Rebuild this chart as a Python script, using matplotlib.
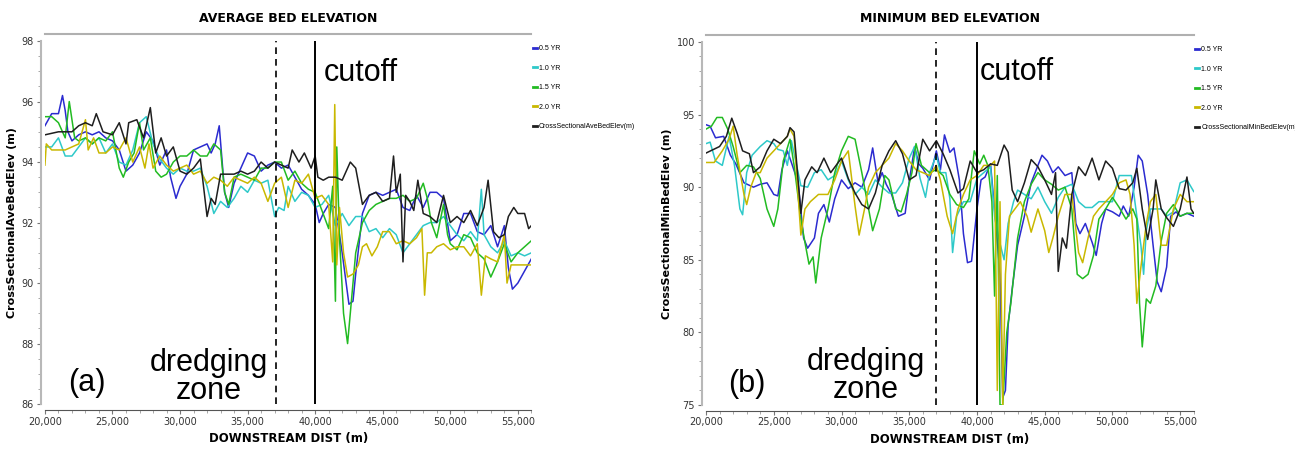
import matplotlib
matplotlib.use("Agg")
import matplotlib.pyplot as plt
from matplotlib.ticker import MultipleLocator, FuncFormatter

# ---------------- data : average bed elevation (a) ----------------
ave_x_05 = [20000, 20500, 21000, 21300, 21500, 21700, 22000, 22500, 23000, 23500, 24000, 24500, 25000, 25500,
            26000, 26500, 27000, 27500, 28000, 28500, 29000, 29300, 29700, 30000, 30500, 31000, 31500, 32000,
            32300, 32600, 32900, 33300, 33600, 34000, 34500, 35000, 35500, 36000, 36500, 37000, 37500, 38000,
            38500, 39000, 39500, 40000, 40300, 40600, 41000, 41500, 42000, 42500, 42800, 43000, 43500, 44000,
            44500, 45000, 45500, 46000, 46500, 47000, 47500, 48000, 48500, 49000, 49500, 50000, 50500, 51000,
            51500, 52000, 52500, 53000, 53500, 54000, 54300, 54600, 55000, 55500, 56000]
ave_y_05 = [95.2, 95.6, 95.6, 96.2, 95.7, 95.0, 94.7, 94.9, 95.0, 94.9, 95.0, 94.8, 94.7, 94.4,
            93.7, 93.9, 94.3, 95.0, 94.7, 93.9, 94.4, 93.5, 92.8, 93.2, 93.6, 94.4, 94.5, 94.6,
            94.3, 94.6, 95.2, 93.0, 92.5, 93.3, 93.8, 94.3, 94.2, 93.7, 93.9, 94.0, 93.8, 93.9,
            93.5, 93.1, 92.9, 92.6, 92.0, 92.3, 92.6, 92.5, 91.0, 89.3, 89.4, 90.3, 92.3, 92.9,
            93.0, 92.9, 93.0, 93.1, 92.5, 92.4, 92.9, 92.5, 93.0, 93.0, 92.8, 91.4, 91.6, 92.3,
            92.3, 91.7, 91.6, 91.9, 91.2, 91.9, 90.5, 89.8, 90.0, 90.4, 90.8]

ave_x_10 = [20000, 20500, 21000, 21500, 22000, 22500, 23000, 23500, 24000, 24500, 25000, 25500, 26000, 26500,
            27000, 27500, 28000, 28500, 29000, 29500, 30000, 30500, 31000, 31500, 32000, 32500, 33000, 33500,
            34000, 34500, 35000, 35500, 36000, 36500, 37000, 37300, 37700, 38000, 38500, 39000, 39500, 40000,
            40500, 41000, 41500, 42000, 42500, 43000, 43500, 44000, 44500, 45000, 45500, 46000, 46500, 47000,
            47500, 48000, 48500, 49000, 49500, 50000, 50500, 51000, 51500, 52000, 52300, 52500, 53000, 53500,
            54000, 54500, 55000, 55500, 56000]
ave_y_10 = [94.5, 94.5, 94.8, 94.2, 94.2, 94.5, 94.8, 94.6, 94.8, 94.3, 94.6, 94.0, 93.9, 94.4,
            95.3, 95.5, 94.6, 94.1, 93.8, 93.6, 93.8, 93.7, 93.7, 93.8, 93.2, 92.3, 92.7, 92.5,
            92.8, 93.2, 93.0, 93.4, 93.3, 93.4, 92.2, 92.5, 92.4, 93.2, 92.7, 93.0, 92.9, 92.5,
            92.6, 92.9, 91.9, 92.3, 91.9, 92.2, 92.2, 91.7, 91.8, 91.5, 91.8, 91.6, 91.0, 91.3,
            91.6, 91.9, 92.0, 92.0, 92.2, 91.9, 91.6, 91.4, 91.7, 91.4, 93.1, 91.6, 91.2, 91.0,
            91.4, 90.9, 91.0, 90.9, 91.0]

ave_x_15 = [20000, 20500, 21000, 21500, 21800, 22200, 22500, 23000, 23500, 24000, 24500, 25000, 25500, 25800,
            26200, 26600, 27000, 27300, 27800, 28200, 28600, 29000, 29500, 30000, 30500, 31000, 31500, 32000,
            32500, 33000, 33300, 33600, 34000, 34500, 35000, 35500, 36000, 36500, 37000, 37500, 38000, 38500,
            39000, 39500, 40000, 40500, 41000, 41300, 41500, 41600, 41800, 42100, 42400, 42700, 43000, 43500,
            44000, 44500, 45000, 45500, 46000, 46500, 47000, 47500, 48000, 48300, 48600, 49000, 49500, 49800,
            50000, 50500, 51000, 51500, 52000, 52500, 53000, 53500, 54000, 54500, 55000, 55500, 56000]
ave_y_15 = [95.5, 95.5, 95.3, 94.8, 96.0, 94.8, 94.7, 94.8, 94.6, 94.8, 94.7, 95.0, 93.8, 93.5,
            94.0, 94.3, 95.3, 94.4, 94.8, 93.7, 93.5, 93.6, 94.0, 94.2, 94.2, 94.4, 94.2, 94.2,
            94.6, 94.4, 93.0, 92.6, 93.5, 93.6, 93.5, 93.4, 93.8, 93.8, 94.0, 94.0, 93.4, 93.7,
            93.3, 93.1, 93.0, 92.4, 91.8, 93.2, 89.4, 94.5, 91.5, 89.0, 88.0, 89.5, 91.0, 92.0,
            92.4, 92.6, 92.7, 92.8, 92.8, 92.9, 92.7, 92.8, 93.3, 92.8, 92.0, 91.5, 92.6, 91.6,
            91.3, 91.1, 91.6, 91.5, 91.0, 90.8, 90.2, 90.7, 91.3, 90.7, 91.0, 91.2, 91.4]

ave_x_20 = [20000, 20100, 20500, 21000, 21500, 22000, 22500, 23000, 23200, 23600, 24000, 24500, 25000, 25500,
            26000, 26500, 27000, 27400, 27700, 28000, 28500, 29000, 29500, 30000, 30500, 31000, 31500, 32000,
            32500, 33000, 33500, 34000, 34500, 35000, 35500, 36000, 36500, 37000, 37500, 38000, 38500, 39000,
            39500, 40000, 40500, 41000, 41300, 41450, 41600, 41800, 42100, 42400, 42800, 43200, 43500, 43800,
            44200, 44600, 45000, 45500, 46000, 46500, 47000, 47500, 47900, 48100, 48300, 48600, 49000, 49500,
            50000, 50500, 51000, 51500, 52000, 52300, 52600, 53000, 53500, 54000, 54200, 54500, 55000, 55500, 56000]
ave_y_20 = [93.9, 94.6, 94.4, 94.4, 94.4, 94.5, 94.6, 95.4, 94.4, 94.8, 94.3, 94.3, 94.5, 94.4,
            94.8, 94.0, 94.5, 93.8, 94.6, 93.8, 94.2, 93.9, 93.7, 93.8, 93.9, 93.6, 93.7, 93.3,
            93.5, 93.4, 93.2, 93.5, 93.4, 93.3, 93.5, 93.3, 92.7, 93.3, 93.5, 92.5, 93.4, 93.3,
            93.6, 92.8, 92.9, 92.6, 90.7, 95.9, 90.6, 92.5, 91.0, 90.2, 90.3, 90.6, 91.2, 91.3,
            90.9, 91.2, 91.7, 91.7, 91.3, 91.4, 91.3, 91.5, 91.8, 89.6, 91.0, 91.0, 91.2, 91.3,
            91.1, 91.2, 91.2, 90.9, 91.3, 89.6, 90.9, 90.8, 90.7, 91.6, 90.0, 90.6, 90.6, 90.6, 90.6]

ave_x_cs = [20000, 21000, 22000, 22500, 23000, 23500, 23800, 24300, 25000, 25500, 26000, 26200, 26800, 27300,
            27800, 28200, 28600, 29000, 29500, 30000, 30500, 31000, 31500, 32000, 32300, 32600, 33000, 34000,
            34500, 35000, 35500, 36000, 36500, 37000, 37500, 38000, 38300, 38800, 39200, 39700, 40000, 40200,
            40600, 41000, 41500, 42000, 42600, 43000, 43500, 44000, 44500, 45000, 45500, 45800, 46000, 46300,
            46500, 46700, 47000, 47300, 47600, 48000, 48500, 49000, 49500, 50000, 50500, 51000, 51500, 52000,
            52500, 52800, 53200, 53600, 54000, 54300, 54700, 55000, 55500, 55800, 56000]
ave_y_cs = [94.9, 95.0, 95.0, 95.2, 95.3, 95.2, 95.6, 95.0, 94.9, 95.3, 94.6, 95.3, 95.4, 94.8,
            95.8, 94.3, 94.8, 94.2, 94.5, 93.7, 93.6, 93.8, 94.1, 92.2, 92.8, 92.6, 93.6, 93.6,
            93.7, 93.6, 93.7, 94.0, 93.8, 94.0, 93.9, 93.8, 94.4, 94.0, 94.3, 93.8, 94.2, 93.5,
            93.4, 93.5, 93.5, 93.4, 94.0, 93.8, 92.6, 92.9, 93.0, 92.7, 92.8, 94.2, 93.0, 93.6,
            90.7, 92.9, 92.7, 92.4, 93.4, 92.3, 92.2, 92.0, 92.9, 92.0, 92.2, 92.0, 92.4, 91.9,
            92.5, 93.4, 91.7, 91.5, 91.6, 92.2, 92.5, 92.3, 92.3, 91.8, 91.9]

# ---------------- data : minimum bed elevation (b) ----------------
min_x_05 = [20000, 20300, 20700, 21300, 21800, 22200, 22800, 23500, 24000, 24500, 25000, 25300, 25600, 26000,
            26300, 26800, 27200, 27500, 28000, 28300, 28700, 29100, 29500, 30000, 30500, 31000, 31500, 32000,
            32300, 32700, 33000, 33300, 33700, 34200, 34700, 35000, 35400, 35700, 36000, 36500, 37000, 37300,
            37600, 38000, 38300, 38700, 39000, 39300, 39600, 40000, 40300, 40600, 41000, 41400, 41700, 41900,
            42100, 42300, 42600, 43000, 43500, 44000, 44500, 44800, 45200, 45600, 46000, 46500, 47000, 47300,
            47600, 48000, 48500, 48800, 49200, 49500, 50000, 50500, 50800, 51200, 51600, 51900, 52200, 52600,
            53000, 53300, 53600, 54000, 54300, 54700, 55000, 55500, 56000]
min_y_05 = [94.3, 94.2, 93.4, 93.5, 92.2, 91.6, 90.3, 90.0, 90.2, 90.3, 89.5, 89.4, 91.2, 92.5,
            91.7, 90.3, 86.5, 85.8, 86.5, 88.2, 88.8, 87.6, 89.2, 90.5, 89.9, 90.3, 90.0, 91.2,
            92.7, 90.3, 91.0, 90.2, 89.5, 88.0, 88.2, 90.4, 92.8, 91.6, 91.3, 90.5, 92.5, 91.2,
            93.6, 92.4, 92.7, 90.5, 86.8, 84.8, 84.9, 88.5, 90.5, 90.7, 91.6, 87.4, 84.0, 75.5,
            76.0, 80.5, 83.0, 86.0, 88.0, 90.3, 91.5, 92.2, 91.8, 91.0, 91.4, 90.8, 91.0, 87.5,
            86.8, 87.5, 86.2, 85.3, 87.5, 88.5, 88.3, 88.0, 88.7, 88.0, 90.0, 92.2, 91.8, 89.5,
            86.0, 83.5, 82.8, 84.5, 88.0, 88.3, 88.0, 88.2, 88.0]

min_x_10 = [20000, 20300, 20700, 21200, 21700, 22100, 22500, 22700, 23000, 23400, 24000, 24500, 25000, 25300,
            25700, 26000, 26300, 26800, 27000, 27500, 28000, 28500, 29000, 29500, 30000, 30500, 31000, 31500,
            32000, 32500, 33000, 33500, 34000, 34500, 35000, 35400, 35800, 36200, 36500, 37000, 37300, 37700,
            38000, 38200, 38500, 39000, 39500, 40000, 40500, 41000, 41300, 41600, 42000, 42300, 42700, 43000,
            43500, 44000, 44500, 45000, 45500, 46000, 46500, 47000, 47500, 48000, 48500, 49000, 49500, 50000,
            50500, 51000, 51400, 51800, 52100, 52300, 52500, 52800, 53200, 53600, 54000, 54500, 55000, 55500, 56000]
min_y_10 = [93.0, 93.1, 91.8, 91.5, 93.5, 91.5, 88.5, 88.1, 91.0, 92.2, 92.8, 93.2, 93.0, 92.6,
            92.5, 91.5, 93.2, 91.0, 90.1, 90.0, 91.0, 91.2, 90.5, 90.8, 91.8, 90.5, 89.5, 90.0,
            89.5, 90.5, 90.0, 89.6, 89.6, 90.3, 92.0, 92.8, 90.6, 89.3, 91.0, 92.2, 91.0, 91.0,
            89.2, 85.5, 88.0, 89.0, 89.0, 90.6, 91.0, 91.4, 88.0, 86.5, 85.0, 87.5, 89.0, 89.8,
            89.5, 89.2, 90.0, 89.0, 88.2, 89.3, 90.0, 90.2, 89.0, 88.6, 88.6, 89.0, 89.0, 89.0,
            90.8, 90.8, 90.8, 88.0, 86.0, 84.0, 87.0, 88.5, 88.5, 88.5, 88.0, 88.3, 90.3, 90.5, 89.7]

min_x_15 = [20000, 20400, 20800, 21200, 21600, 22000, 22500, 23000, 23500, 24000, 24500, 25000, 25300, 25700,
            26200, 26500, 27000, 27300, 27600, 27900, 28100, 28500, 29000, 29500, 30000, 30500, 31000, 31500,
            32000, 32300, 32800, 33200, 33500, 34000, 34400, 34800, 35200, 35500, 35900, 36500, 37000, 37500,
            38000, 38500, 39000, 39400, 39800, 40200, 40500, 40800, 41100, 41300, 41500, 41700, 41900, 42200,
            42500, 43000, 43500, 44000, 44500, 45000, 45500, 46000, 46500, 47000, 47400, 47800, 48200, 48600,
            49000, 49500, 50000, 50500, 51000, 51500, 51800, 52000, 52200, 52500, 52800, 53200, 53600, 54000,
            54500, 55000, 55500, 56000]
min_y_15 = [94.0, 94.2, 94.8, 94.8, 94.0, 92.8, 91.0, 91.5, 91.4, 90.6, 88.5, 87.3, 88.5, 91.8,
            93.3, 91.5, 87.8, 86.2, 84.7, 85.2, 83.4, 86.5, 88.5, 91.0, 92.5, 93.5, 93.3, 91.0,
            88.5, 87.0, 88.5, 90.8, 90.5, 88.5, 88.3, 89.5, 91.0, 93.0, 91.5, 91.0, 91.2, 90.8,
            89.5, 88.8, 88.6, 89.2, 92.5, 91.6, 92.2, 91.5, 89.0, 82.5, 90.8, 75.0, 75.0, 80.0,
            82.0, 86.5, 89.0, 90.2, 91.0, 90.5, 90.2, 89.8, 90.0, 88.5, 84.0, 83.7, 84.0, 85.3,
            87.8, 88.5, 89.3, 88.6, 87.8, 88.5, 87.8, 82.0, 79.0, 82.3, 82.0, 83.2, 86.3, 88.2,
            88.8, 88.0, 88.2, 88.2]

min_x_20 = [20000, 20600, 21200, 21700, 22000, 22300, 22800, 23000, 23300, 23700, 24000, 24500, 25000, 25500,
            26000, 26200, 26500, 27000, 27300, 27700, 28300, 29000, 29500, 30000, 30500, 31000, 31300, 31700,
            32000, 32500, 33000, 33500, 34000, 34500, 35000, 35500, 36000, 36500, 37000, 37300, 37800, 38200,
            38600, 39000, 39500, 40000, 40500, 41000, 41300, 41500, 41700, 41900, 42100, 42400, 42800, 43200,
            43700, 44000, 44500, 45000, 45300, 45600, 46000, 46500, 47000, 47500, 47800, 48200, 48600, 49000,
            49500, 50000, 50500, 51000, 51300, 51600, 51800, 52100, 52500, 52800, 53200, 53600, 54000, 54500,
            55000, 55500, 56000]
min_y_20 = [91.7, 91.7, 92.5, 93.3, 94.2, 92.2, 89.5, 88.8, 90.0, 91.0, 91.0, 92.0, 92.5, 93.0,
            93.5, 94.0, 93.5, 86.7, 88.5, 89.0, 89.5, 89.5, 90.5, 91.8, 92.5, 88.7, 86.7, 88.5,
            90.0, 91.0, 91.5, 92.0, 93.0, 92.5, 91.8, 91.2, 91.0, 90.8, 91.5, 90.5, 88.0, 86.8,
            88.5, 89.5, 90.5, 90.8, 91.5, 91.5, 91.8, 76.0, 89.0, 75.0, 84.0, 88.0, 88.5, 89.0,
            88.0, 86.9, 88.5, 87.0, 85.5, 86.5, 88.0, 89.5, 89.5, 85.5, 84.8, 86.5, 88.0, 88.5,
            89.0, 89.5, 90.3, 90.5, 89.5, 86.0, 82.0, 84.5, 87.5, 89.0, 89.5, 86.0, 86.0, 88.5,
            89.5, 89.0, 89.0]

min_x_cs = [20000, 21000, 21500, 21900, 22300, 22700, 23200, 23500, 24000, 24500, 25000, 25500, 26000, 26200,
            26500, 27000, 27300, 27800, 28200, 28700, 29200, 30000, 30500, 31000, 31500, 32000, 32500, 33000,
            33500, 34000, 34500, 35000, 35500, 36000, 36500, 37000, 37500, 38000, 38600, 39000, 39500, 40000,
            40500, 41000, 41500, 42000, 42300, 42600, 43000, 43500, 44000, 44500, 45000, 45500, 45800, 46000,
            46300, 46600, 47000, 47500, 48000, 48500, 49000, 49500, 50000, 50500, 51000, 51500, 51800, 52200,
            52600, 53000, 53200, 53600, 54000, 54500, 55000, 55500, 55800, 56000]
min_y_cs = [92.35, 92.8, 93.5, 94.75, 93.7, 92.5, 92.3, 91.0, 91.4, 92.5, 93.3, 93.0, 93.5, 94.1,
            93.8, 88.2, 90.5, 91.4, 91.0, 92.0, 91.0, 92.0, 90.6, 89.6, 88.8, 88.5, 89.6, 91.5,
            92.5, 93.2, 92.3, 90.5, 90.8, 93.3, 92.5, 93.2, 92.3, 91.2, 89.6, 89.9, 91.8, 91.0,
            91.2, 91.6, 91.5, 92.9, 92.4, 89.8, 89.0, 90.3, 91.9, 91.4, 90.5, 89.5, 91.0, 84.2,
            86.5, 85.8, 89.5, 91.4, 90.8, 92.0, 90.5, 91.8, 91.3, 89.9, 89.8, 90.3, 91.3, 88.5,
            86.4, 88.5, 90.5, 88.5, 87.9, 87.3, 88.5, 90.7, 88.5, 88.2]

series_labels = ["0.5 YR", "1.0 YR", "1.5 YR", "2.0 YR"]
colors = ["#2b2bd0", "#2ec9c9", "#22bb22", "#c9b800", "#1e1e1e"]


def comma(v, pos):
    return f"{int(v):,}"


def style_axes(ax, ylim, ymajor, yminor, title, ylabel):
    ax.set_xlim(20000, 56000)
    ax.set_ylim(*ylim)
    ax.xaxis.set_major_locator(MultipleLocator(5000))
    ax.xaxis.set_minor_locator(MultipleLocator(1000))
    ax.xaxis.set_major_formatter(FuncFormatter(comma))
    ax.yaxis.set_major_locator(MultipleLocator(ymajor))
    ax.yaxis.set_minor_locator(MultipleLocator(yminor))
    ax.spines['right'].set_visible(False)
    ax.spines['top'].set_color('#b0b0b0')
    ax.spines['top'].set_linewidth(1.5)
    ax.spines['top'].set_position(('outward', 5))
    ax.spines['left'].set_color('#b8b8b8')
    ax.spines['left'].set_linewidth(1.5)
    ax.spines['left'].set_position(('outward', 3))
    ax.spines['bottom'].set_color('#555555')
    ax.spines['bottom'].set_position(('outward', 4))
    ax.tick_params(axis='both', which='major', labelsize=7, length=3, color='#777777',
                   labelcolor='#333333', pad=2)
    ax.tick_params(axis='both', which='minor', length=2, color='#999999')
    ax.set_title(title, fontsize=9, fontweight='bold', pad=14)
    ax.set_ylabel(ylabel, fontsize=8, fontweight='bold', labelpad=3)
    ax.set_xlabel("DOWNSTREAM DIST (m)", fontsize=8.5, fontweight='bold', labelpad=4)


fig = plt.figure(figsize=(12.95, 4.51), dpi=100)
ax1 = fig.add_axes([0.0347, 0.104, 0.3756, 0.805])
ax2 = fig.add_axes([0.5452, 0.102, 0.3766, 0.805])

ave_sets = [(ave_x_05, ave_y_05), (ave_x_10, ave_y_10), (ave_x_15, ave_y_15), (ave_x_20, ave_y_20)]
min_sets = [(min_x_05, min_y_05), (min_x_10, min_y_10), (min_x_15, min_y_15), (min_x_20, min_y_20)]

for (xs, ys), lab, c in zip(ave_sets, series_labels, colors):
    ax1.plot(xs, ys, color=c, lw=1.1, label=lab)
ax1.plot(ave_x_cs, ave_y_cs, color=colors[4], lw=1.1, label="CrossSectionalAveBedElev(m)")

for (xs, ys), lab, c in zip(min_sets, series_labels, colors):
    ax2.plot(xs, ys, color=c, lw=1.1, label=lab)
ax2.plot(min_x_cs, min_y_cs, color=colors[4], lw=1.1, label="CrossSectionalMinBedElev(m)")

style_axes(ax1, (86, 98), 2, 0.5, "AVERAGE BED ELEVATION", "CrossSectionalAveBedElev (m)")
style_axes(ax2, (75, 100), 5, 1, "MINIMUM BED ELEVATION", "CrossSectionalMinBedElev (m)")

for ax, dash_x in ((ax1, 37100), (ax2, 37000)):
    ax.axvline(dash_x, color='black', ls=(0, (4, 3)), lw=1.2)
    ax.axvline(40000, color='black', lw=1.4)
    leg = ax.legend(loc='upper left', bbox_to_anchor=(0.995, 1.0), frameon=False,
                    prop={'family': 'Liberation Sans', 'size': 5},
                    handlelength=0.5, handletextpad=0.35, labelspacing=1.8, borderaxespad=0.2)
    for line in leg.get_lines():
        line.set_linewidth(2)

big = dict(family='Liberation Sans', fontsize=22, color='black')
ax1.text(40600, 96.95, "cutoff", ha='left', va='center', **big)
ax1.text(32100, 86.9, "dredging\nzone", ha='center', va='center', linespacing=0.9, **big)
ax1.text(23100, 86.7, "(a)", ha='center', va='center', **big)

ax2.text(40200, 97.9, "cutoff", ha='left', va='center', **big)
ax2.text(31800, 77.0, "dredging\nzone", ha='center', va='center', linespacing=0.9, **big)
ax2.text(23000, 76.45, "(b)", ha='center', va='center', **big)

fig.savefig("out.png", dpi=100)
